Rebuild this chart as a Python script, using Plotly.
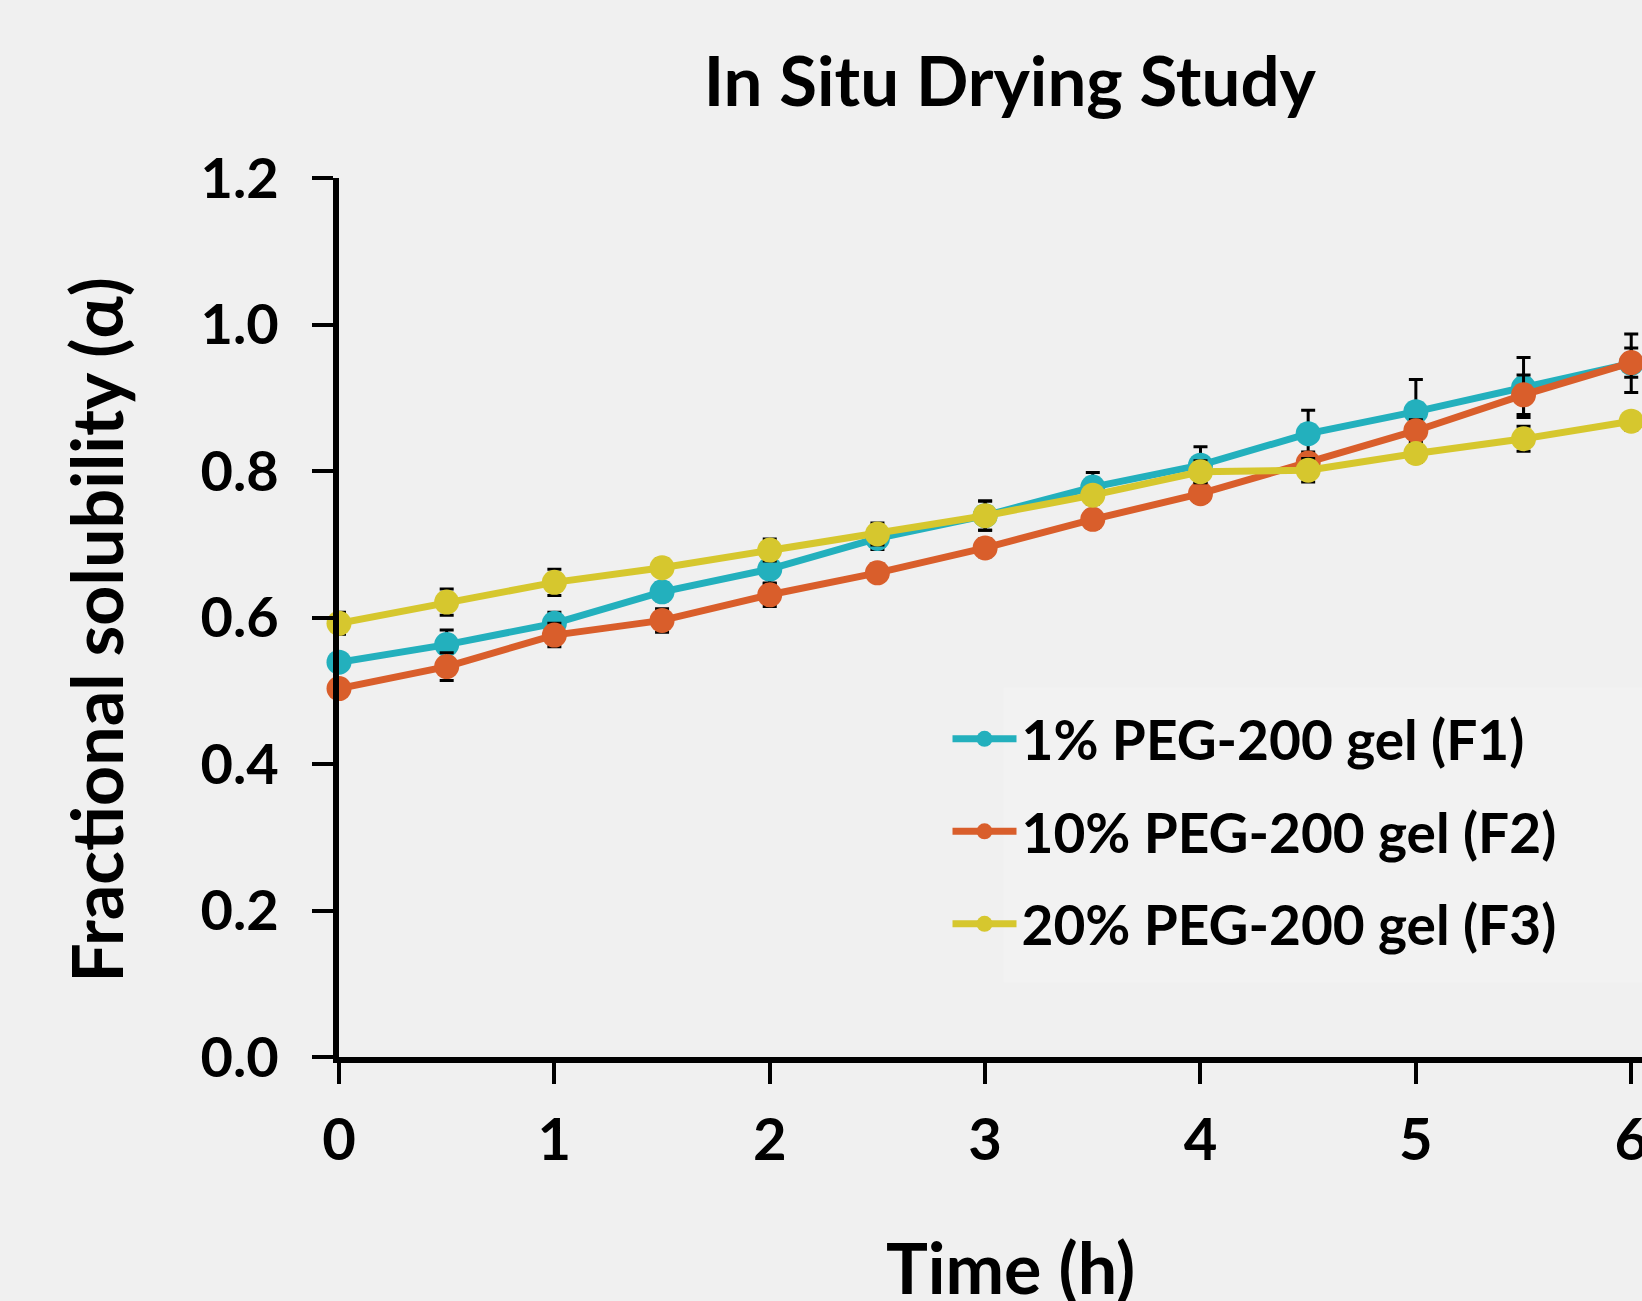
import plotly.graph_objects as go

time_h = [0, 0.5, 1, 1.5, 2, 2.5, 3, 3.5, 4, 4.5, 5, 5.5, 6]

series_names = ["1% PEG-200 gel (F1)", "10% PEG-200 gel (F2)", "20% PEG-200 gel (F3)"]

f1_vals = [0.539, 0.563, 0.592, 0.635, 0.666, 0.708, 0.739, 0.778, 0.808, 0.851, 0.881, 0.914, 0.947]
f2_vals = [0.503, 0.533, 0.576, 0.596, 0.631, 0.661, 0.695, 0.734, 0.769, 0.811, 0.855, 0.904, 0.948]
f3_vals = [0.592, 0.621, 0.648, 0.668, 0.692, 0.714, 0.739, 0.767, 0.799, 0.801, 0.824, 0.844, 0.868]

f1_err = [0.010, 0.020, 0.015, 0.012, 0.020, 0.015, 0.020, 0.020, 0.025, 0.032, 0.044, 0.041, 0.040]
f2_err = [0.012, 0.019, 0.016, 0.016, 0.016, 0.012, 0.012, 0.012, 0.012, 0.015, 0.015, 0.027, 0.020]
f3_err = [0.015, 0.018, 0.018, 0.012, 0.015, 0.015, 0.020, 0.012, 0.015, 0.016, 0.012, 0.017, 0.012]

x_ticks = [0, 1, 2, 3, 4, 5, 6]
y_ticks = [0.0, 0.2, 0.4, 0.6, 0.8, 1.0, 1.2]
y_tick_text = ["0.0", "0.2", "0.4", "0.6", "0.8", "1.0", "1.2"]

colors = ["#23b0bd", "#d95e2b", "#d6c72e"]
BG = "#f0f0f0"
FONT = "Lato"

fig = go.Figure()
for i, (name, vals, errs, col) in enumerate(zip(series_names, [f1_vals, f2_vals, f3_vals],
                                                [f1_err, f2_err, f3_err], colors)):
    fig.add_trace(go.Scatter(
        x=time_h, y=vals, name=f"<b>{name}</b>", mode="lines+markers",
        legendgroup=f"g{i}",
        line=dict(color=col, width=7),
        marker=dict(color=col, size=25),
        error_y=dict(type="data", array=errs, visible=True, color="black",
                     thickness=3, width=7),
        cliponaxis=False,
    ))

fig.update_layout(
    width=1642, height=1301,
    paper_bgcolor=BG, plot_bgcolor=BG,
    margin=dict(l=339, r=0, t=178, b=244, autoexpand=False),
    font=dict(family=FONT, color="black"),
    title=dict(text="<b>In Situ Drying Study</b>", x=0.615, xanchor="center",
               y=0.937, yanchor="middle", font=dict(family=FONT, size=69, color="black")),
    showlegend=True,
    legend=dict(x=0.467, y=0.41, xanchor="left", yanchor="top",
                bgcolor="rgba(0,0,0,0)", font=dict(family=FONT, size=55, color="black"),
                itemwidth=64, tracegroupgap=18),
    shapes=[
        dict(type="rect", xref="paper", yref="paper", x0=0.51, x1=1.0, y0=0.085, y1=0.42,
             fillcolor="#f2f2f2", line=dict(width=0), layer="below"),
    ],
    annotations=[
        dict(text="<b>Time (h)</b>", xref="paper", yref="paper", x=0.515, y=-0.239,
             xanchor="center", yanchor="middle", showarrow=False,
             font=dict(family=FONT, size=70, color="black")),
        dict(text="<b>Fractional solubility (α)</b>", xref="paper", yref="paper",
             x=-0.1865, y=0.486, xanchor="center", yanchor="middle", textangle=-90,
             showarrow=False, font=dict(family=FONT, size=70, color="black")),
    ],
)

fig.update_xaxes(
    range=[0, 6.05], tickmode="array", tickvals=x_ticks,
    ticktext=[f"<b>{v}</b>" for v in x_ticks],
    showgrid=False, zeroline=False, showline=True, linecolor="black", linewidth=6,
    ticks="outside", ticklen=21, tickwidth=4, tickcolor="black",
    tickfont=dict(family=FONT, size=58, color="black"), ticklabelstandoff=6,
    ticklabeloverflow="allow", automargin=False,
)
fig.update_yaxes(
    range=[0, 1.2], tickmode="array", tickvals=y_ticks,
    ticktext=[f"<b>{t}</b>" for t in y_tick_text],
    showgrid=False, zeroline=False, showline=True, linecolor="black", linewidth=6,
    ticks="outside", ticklen=21, tickwidth=4, tickcolor="black",
    tickfont=dict(family=FONT, size=56, color="black"), ticklabelstandoff=22,
    automargin=False,
)

fig.write_html(
    "out.html",
    config={"displayModeBar": False},
    post_script="document.body.style.margin='0';document.body.style.overflow='hidden';"
                "document.body.style.background='#f0f0f0';",
)
